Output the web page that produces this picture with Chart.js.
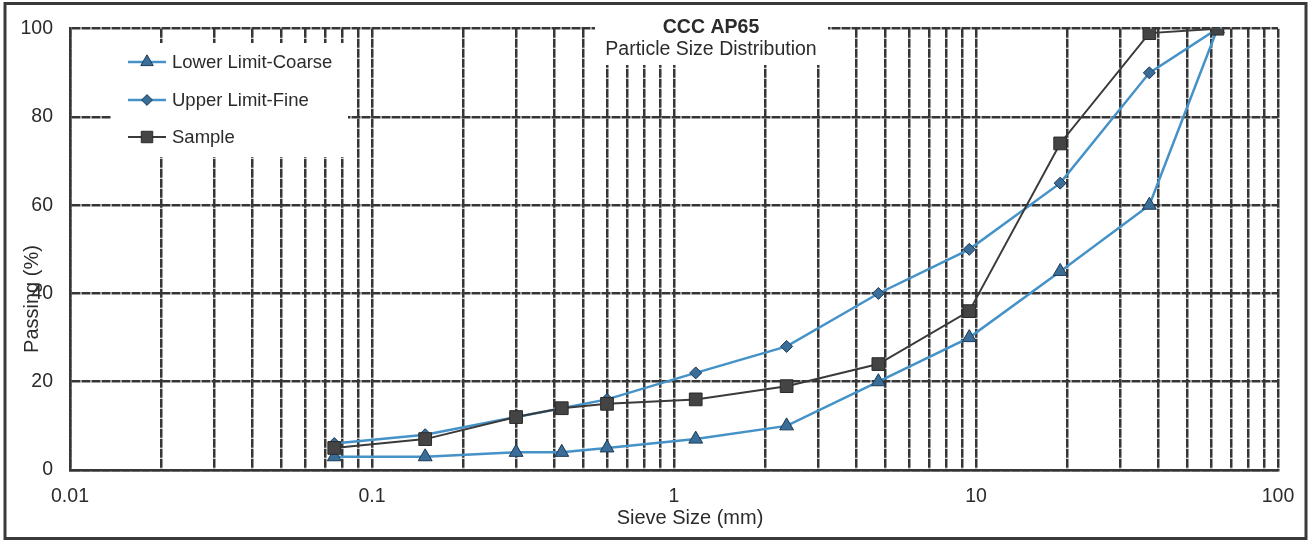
<!DOCTYPE html>
<html>
<head>
<meta charset="utf-8">
<title>CCC AP65 - Particle Size Distribution</title>
<script src="https://cdn.jsdelivr.net/npm/chart.js@4/dist/chart.umd.min.js"></script>
<style>
  html, body { margin: 0; padding: 0; background: #fff; }
  #wrap { width: 1311px; height: 541px; position: relative; }
</style>
</head>
<body>
<div id="wrap"><canvas id="psd" width="1311" height="541"></canvas></div>
<script>
// Sieve sizes (mm) shared by all three gradation curves
const sieveSizes = [0.075, 0.15, 0.3, 0.425, 0.6, 1.18, 2.36, 4.75, 9.5, 19, 37.5, 63];

// Percent passing for each curve
const lowerLimitCoarse = [3, 3, 4, 4, 5, 7, 10, 20, 30, 45, 60, 100];
const upperLimitFine   = [6, 8, 12, 14, 16, 22, 28, 40, 50, 65, 90, 100];
const samplePassing    = [5, 7, 12, 14, 15, 16, 19, 24, 36, 74, 99, 100];

// Axis ticks
const xDecadeValues = [0.01, 0.1, 1, 10, 100];
const xDecadeLabels = ['0.01', '0.1', '1', '10', '100'];
const yTickValues   = [0, 20, 40, 60, 80, 100];

// Log grid: every 1..9 step inside each decade
const xGridValues = [];
for (let d = 0; d < xDecadeValues.length - 1; d++) {
  for (let m = 1; m <= 9; m++) xGridValues.push(+(xDecadeValues[d] * m).toPrecision(6));
}
xGridValues.push(xDecadeValues[xDecadeValues.length - 1]);

const FONT = "'Liberation Sans', Arial, Helvetica, sans-serif";
const GRID = '#363636';
const BLUE_LINE = '#4592c8';
const BLUE_FILL = '#3b6d99';
const BLUE_EDGE = '#1d3a55';
const DARK = '#3a3a3a';
const TEXT = '#2b2b2b';

const toPoints = vals => sieveSizes.map((s, i) => ({ x: s, y: vals[i] }));

const datasets = [
  {
    label: 'Lower Limit-Coarse',
    data: toPoints(lowerLimitCoarse),
    borderColor: BLUE_LINE, borderWidth: 2.5,
    pointStyle: 'triangle', pointRadius: 8,
    pointBackgroundColor: BLUE_FILL, pointBorderColor: BLUE_EDGE, pointBorderWidth: 1,
    tension: 0, order: 2
  },
  {
    label: 'Upper Limit-Fine',
    data: toPoints(upperLimitFine),
    borderColor: BLUE_LINE, borderWidth: 2.5,
    pointStyle: 'rectRot', pointRadius: 6,
    pointBackgroundColor: BLUE_FILL, pointBorderColor: BLUE_EDGE, pointBorderWidth: 1,
    tension: 0, order: 1
  },
  {
    label: 'Sample',
    data: toPoints(samplePassing),
    borderColor: DARK, borderWidth: 2,
    pointStyle: 'rect', pointRadius: 9,
    pointBackgroundColor: '#444', pointBorderColor: '#2a2a2a', pointBorderWidth: 1,
    tension: 0, order: 0
  }
];

// Small marker painter for the in-plot legend
function marker(ctx, style, x, y, r) {
  ctx.beginPath();
  if (style === 'triangle') {
    ctx.moveTo(x, y - r);
    ctx.lineTo(x + r * 0.866, y + r * 0.5);
    ctx.lineTo(x - r * 0.866, y + r * 0.5);
    ctx.closePath();
  } else if (style === 'rectRot') {
    ctx.moveTo(x, y - r); ctx.lineTo(x + r, y); ctx.lineTo(x, y + r); ctx.lineTo(x - r, y);
    ctx.closePath();
  } else {
    const s = r * Math.SQRT1_2;
    ctx.rect(x - s, y - s, 2 * s, 2 * s);
  }
  ctx.fill();
  ctx.stroke();
}

const sheetDecor = {
  id: 'sheetDecor',
  beforeDraw(chart) {
    const ctx = chart.ctx;
    ctx.save();
    ctx.fillStyle = '#fff';
    ctx.fillRect(0, 0, chart.width, chart.height);
    ctx.restore();
  },
  beforeDatasetsDraw(chart) {
    // white panels behind the legend and the title
    const ctx = chart.ctx;
    ctx.save();
    ctx.fillStyle = '#fff';
    ctx.fillRect(111, 43, 237, 114);
    ctx.fillRect(595, 20, 233, 45);
    ctx.restore();
  },
  afterDatasetsDraw(chart) {
    const ctx = chart.ctx;
    ctx.save();

    // legend
    const rows = [62, 100, 137];
    chart.data.datasets.forEach((ds, i) => {
      const y = rows[i];
      ctx.strokeStyle = ds.borderColor;
      ctx.lineWidth = ds.borderWidth;
      ctx.beginPath(); ctx.moveTo(128, y); ctx.lineTo(166, y); ctx.stroke();
      ctx.fillStyle = ds.pointBackgroundColor;
      ctx.strokeStyle = ds.pointBorderColor;
      ctx.lineWidth = 1;
      marker(ctx, ds.pointStyle, 147, y, ds.pointRadius * 0.9);
      ctx.fillStyle = TEXT;
      ctx.font = '18.5px ' + FONT;
      ctx.textAlign = 'left';
      ctx.textBaseline = 'middle';
      ctx.fillText(ds.label, 172, y + 1);
    });

    // title
    ctx.fillStyle = TEXT;
    ctx.textAlign = 'center';
    ctx.textBaseline = 'middle';
    ctx.font = 'bold 19.5px ' + FONT;
    ctx.fillText('CCC AP65', 711, 28);
    ctx.font = '19.5px ' + FONT;
    ctx.fillText('Particle Size Distribution', 711, 50);

    // axis titles
    ctx.font = '20px ' + FONT;
    ctx.fillText('Sieve Size (mm)', 690, 518);
    ctx.translate(32, 299);
    ctx.rotate(-Math.PI / 2);
    ctx.fillText('Passing (%)', 0, 0);
    ctx.restore();

    // outer frame
    ctx.save();
    ctx.strokeStyle = '#3a3a3a';
    ctx.lineWidth = 3;
    ctx.strokeRect(5, 3.5, 1301, 535);
    ctx.restore();
  }
};

new Chart(document.getElementById('psd'), {
  type: 'line',
  data: { datasets },
  options: {
    responsive: false,
    animation: false,
    layout: { padding: { left: 0, right: 33, top: 28, bottom: 0 } },
    plugins: { legend: { display: false }, title: { display: false }, tooltip: { enabled: false } },
    scales: {
      x: {
        type: 'logarithmic',
        min: 0.01, max: 100,
        afterBuildTicks(scale) { scale.ticks = xGridValues.map(v => ({ value: v })); },
        afterFit(scale) { scale.height = 71; },
        ticks: {
          autoSkip: false, maxRotation: 0, minRotation: 0, padding: 15,
          color: TEXT, font: { family: FONT, size: 19.5 },
          callback(value) {
            const i = xDecadeValues.findIndex(d => Math.abs(d - value) / d < 1e-6);
            return i >= 0 ? xDecadeLabels[i] : '';
          }
        },
        grid: { color: GRID, lineWidth: 2.5, drawTicks: false },
        border: { display: true, color: GRID, width: 2.5, dash: [9, 1] }
      },
      y: {
        min: 0, max: 100,
        afterBuildTicks(scale) { scale.ticks = yTickValues.map(v => ({ value: v })); },
        afterFit(scale) { scale.width = 70; },
        ticks: { padding: 17, color: TEXT, font: { family: FONT, size: 19.5 } },
        grid: { color: GRID, lineWidth: 2.5, drawTicks: false },
        border: { display: true, color: GRID, width: 2.5, dash: [9, 1] }
      }
    }
  },
  plugins: [sheetDecor]
});
</script>
</body>
</html>
